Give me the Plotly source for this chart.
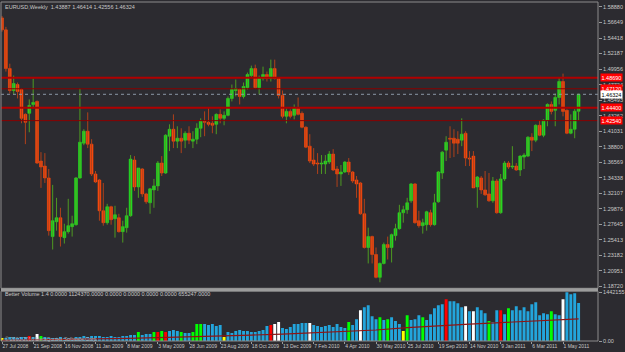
import plotly.graph_objects as go
import pandas as pd

# ---------------- data (EURUSD weekly) ----------------
start_date = "2008-07-27"
opens = [
1.5731,1.5559,1.5002,1.4687,1.4773,1.4702,1.4344,1.4359,1.4487,1.4530,
1.3673,1.3601,1.3430,1.2587,1.2801,1.2858,1.2572,1.2658,1.2730,1.2758,
1.3430,1.3930,1.4102,1.3916,1.3487,1.3401,1.2958,1.2787,1.3016,1.2844,
1.2858,1.2658,1.2715,1.2887,1.3687,1.3301,1.3559,1.3201,1.3073,1.3258,
1.3316,1.3644,1.3501,1.4030,1.4130,1.3959,1.4001,1.3973,1.4073,1.3959,
1.3987,1.4144,1.4244,1.4230,1.4216,1.4201,1.4344,1.4287,1.4330,1.4573,
1.4687,1.4702,1.4602,1.4730,1.4902,1.5002,1.4730,1.4859,1.4916,1.4859,
1.5002,1.4859,1.4616,1.4316,1.4387,1.4330,1.4430,1.4359,1.4159,1.3887,
1.3687,1.3644,1.3630,1.3630,1.3659,1.3773,1.3559,1.3487,1.3516,1.3659,
1.3516,1.3401,1.3358,1.2915,1.2430,1.2587,1.2330,1.2001,1.2201,1.2472,
1.2430,1.2601,1.2701,1.2930,1.2973,1.3101,1.3344,1.2815,1.2744,1.2758,
1.2930,1.2758,1.3087,1.3501,1.3830,1.4001,1.4001,1.3987,1.3973,1.4073,
1.3716,1.3744,1.3301,1.3430,1.3258,1.3201,1.3101,1.3387,1.2930,1.3416,
1.3644,1.3587,1.3601,1.3544,1.3730,1.3744,1.4016,1.3973,1.4187,1.4044,
1.4259,1.4487,1.4402,1.4587,1.4816,1.4402,1.4073,1.4130,1.43887]
highs = [
1.5759,1.5602,1.5073,1.4902,1.4802,1.4716,1.4359,1.4559,1.4859,1.4544,
1.3801,1.3787,1.3559,1.3330,1.3144,1.3001,1.2772,1.3130,1.2887,1.3444,
1.4716,1.4130,1.4373,1.3987,1.3530,1.3416,1.3358,1.3058,1.3030,1.3030,
1.2915,1.2815,1.3001,1.3759,1.3744,1.3573,1.3573,1.3216,1.3287,1.3416,
1.3673,1.3744,1.4059,1.4201,1.4344,1.4173,1.4144,1.4102,1.4173,1.4102,
1.4216,1.4287,1.4387,1.4430,1.4316,1.4359,1.4416,1.4387,1.4602,1.4773,
1.4845,1.4716,1.4802,1.4945,1.5045,1.5059,1.4902,1.5030,1.4959,1.5131,
1.5131,1.4873,1.4687,1.4430,1.4416,1.4487,1.4587,1.4387,1.4173,1.4059,
1.3859,1.3787,1.3759,1.3759,1.3816,1.3844,1.3601,1.3616,1.3673,1.3716,
1.3530,1.3458,1.3373,1.3130,1.2715,1.2601,1.2430,1.2215,1.2501,1.2587,
1.2630,1.2772,1.3044,1.3030,1.3144,1.3358,1.3358,1.2958,1.2844,1.2958,
1.2973,1.3201,1.3530,1.3816,1.4030,1.4173,1.4130,1.4102,1.4287,1.4102,
1.3816,1.3816,1.3458,1.3458,1.3530,1.3501,1.3444,1.3416,1.3487,1.3673,
1.3673,1.3887,1.3644,1.3759,1.3787,1.4030,1.4073,1.4201,1.4259,1.4273,
1.4502,1.4530,1.4645,1.4873,1.4930,1.4416,1.4344,1.4420,1.46414]
lows = [
1.5531,1.4959,1.4645,1.4630,1.4573,1.4216,1.3916,1.4087,1.4430,1.3630,
1.3287,1.3358,1.2601,1.2401,1.2672,1.2444,1.2487,1.2630,1.2587,1.2744,
1.3416,1.3901,1.3859,1.3458,1.3358,1.2815,1.2744,1.2758,1.2758,1.2572,
1.2644,1.2501,1.2644,1.2872,1.3244,1.3144,1.3158,1.3058,1.2915,1.3001,
1.3244,1.3458,1.3487,1.3816,1.3859,1.3859,1.3787,1.3859,1.3916,1.3859,
1.3916,1.4016,1.4030,1.4173,1.4073,1.4059,1.4216,1.4187,1.4316,1.4530,
1.4602,1.4487,1.4573,1.4702,1.4873,1.4716,1.4630,1.4830,1.4816,1.4816,
1.4845,1.4573,1.4287,1.4216,1.4287,1.4273,1.4330,1.4144,1.3859,1.3644,
1.3601,1.3487,1.3487,1.3487,1.3630,1.3530,1.3301,1.3316,1.3501,1.3473,
1.3358,1.3144,1.2901,1.2415,1.2201,1.2201,1.1987,1.1930,1.2187,1.2258,
1.2215,1.2529,1.2687,1.2787,1.2915,1.3073,1.2772,1.2715,1.2630,1.2672,
1.2730,1.2744,1.3073,1.3416,1.3673,1.3716,1.3730,1.3773,1.3887,1.3601,
1.3601,1.3287,1.3001,1.3201,1.3173,1.3087,1.3073,1.2915,1.2915,1.3387,
1.3559,1.3559,1.3530,1.3458,1.3559,1.3730,1.3816,1.3944,1.4030,1.4016,
1.4173,1.4344,1.4173,1.4487,1.4316,1.4059,1.4059,1.4001,1.42556]
closes = [
1.5559,1.5002,1.4687,1.4788,1.4673,1.4287,1.4230,1.4473,1.4516,1.3644,
1.3587,1.3430,1.2672,1.2815,1.2858,1.2587,1.2658,1.2744,1.2772,1.3430,
1.3944,1.4102,1.3916,1.3487,1.3373,1.2958,1.2787,1.3016,1.2830,1.2901,
1.2658,1.2730,1.2887,1.3701,1.3301,1.3573,1.3201,1.3087,1.3273,1.3316,
1.3644,1.3501,1.4044,1.4130,1.3959,1.4001,1.3959,1.4073,1.3973,1.3987,
1.4144,1.4244,1.4230,1.4201,1.4187,1.4344,1.4287,1.4330,1.4573,1.4702,
1.4716,1.4602,1.4745,1.4916,1.5002,1.4730,1.4873,1.4916,1.4859,1.5002,
1.4859,1.4616,1.4316,1.4387,1.4316,1.4430,1.4344,1.4159,1.3873,1.3673,
1.3630,1.3630,1.3644,1.3673,1.3773,1.3544,1.3487,1.3516,1.3659,1.3516,
1.3387,1.3344,1.2915,1.2430,1.2587,1.2330,1.2001,1.2201,1.2472,1.2430,
1.2615,1.2701,1.2930,1.2973,1.3073,1.3344,1.2787,1.2744,1.2787,1.2944,
1.2758,1.3073,1.3516,1.3801,1.3944,1.3987,1.3930,1.3930,1.4059,1.3716,
1.3701,1.3287,1.3444,1.3258,1.3187,1.3101,1.3387,1.2930,1.3416,1.3644,
1.3587,1.3601,1.3544,1.3744,1.3759,1.4016,1.3973,1.4187,1.4044,1.4259,
1.4487,1.4387,1.4587,1.4816,1.4387,1.4073,1.4130,1.4389,1.46324]

# Better Volume histogram (thousands) and signal type of special bars
volume_k = [
88,88,118,118,88,118,118,147,118,206,147,118,88,88,88,118,88,88,59,
118,118,147,118,147,147,147,118,118,147,118,118,147,147,177,
177,265,177,206,206,265,265,294,265,294,324,294,265,235,235,265,
500,500,500,471,500,441,471,
118,
265,235,294,324,294,294,265,265,294,324,
441,471,500,559,
383,353,412,500,500,530,530,
530,
471,441,412,441,471,412,500,412,383,
559,471,647,912,1001,1059,736,647,706,618,647,706,589,500,294,765,618,647,765,706,
618,795,971,1059,1089,1236,1177,1177,1118,1001,1030,883,883,1001,912,824,589,559,912,912,
795,971,912,1030,912,1001,883,1089,1148,765,824,795,883,795,765,1236,1442.155,1383,1413,1124.370]
vol_signal = {0: "yellow", 7: "red", 9: "white", 10: "green", 35: "green", 39: "green", 40: "red",
              41: "green", 42: "red", 46: "green", 49: "green", 50: "green", 51: "green",
              57: "yellow", 69: "red", 70: "white", 71: "white", 79: "white", 89: "green",
              92: "white", 97: "green", 99: "green", 103: "yellow", 104: "green", 108: "green",
              114: "red", 119: "white", 121: "white", 125: "green", 128: "red", 130: "green",
              141: "green", 144: "white"}
# volume moving average read at every 8th bar (thousands)
ma_idx = [0, 8, 16, 24, 32, 40, 48, 56, 64, 72, 80, 88, 96, 104, 112, 120, 128, 136, 144, 148]
ma_k = [20, 30, 45, 60, 80, 100, 120, 150, 175, 205, 240, 280, 325, 395, 455, 500, 545, 590, 635, 655.247]

# horizontal levels drawn on the chart
levels = [1.4869, 1.4712, 1.4440, 1.4254]
level_widths = [2, 1, 2, 1]
bid = 1.46324
vol_max = 1442155

# ---------------- styling ----------------
BG = "#2c2b30"
TXT = "#c8c8c8"
FONT = "Liberation Sans"
BULL, BEAR = "#22e222", "#ff4a0c"
BULL_W, BEAR_W = "#4e9a22", "#b0401a"
VCOL = {"blue": "#23a5dc", "green": "#00ff00", "red": "#ff0000", "white": "#ffffff", "yellow": "#ffff00"}

n = len(opens)
idx = list(range(n))
dates = pd.date_range(start_date, periods=n, freq="7D")
volume = [v * 1000 for v in volume_k]
ma = [v * 1000 for v in ma_k]

fig = go.Figure()

for is_bull, wc, bc in [(True, BULL_W, BULL), (False, BEAR_W, BEAR)]:
    sel = [i for i in idx if (closes[i] > opens[i]) == is_bull]
    xs, ys = [], []
    for i in sel:
        xs += [i, i, None]
        ys += [lows[i], highs[i], None]
    fig.add_trace(go.Scatter(x=xs, y=ys, mode="lines", line=dict(color=wc, width=1),
                             hoverinfo="skip", yaxis="y"))
    fig.add_trace(go.Bar(x=sel, y=[abs(closes[i] - opens[i]) for i in sel],
                         base=[min(opens[i], closes[i]) for i in sel], width=0.72,
                         marker=dict(color=bc, line=dict(color=bc, width=0.6)), yaxis="y"))

fig.add_trace(go.Bar(x=idx, y=volume, width=0.75, yaxis="y2",
                     marker=dict(color=[VCOL[vol_signal.get(i, "blue")] for i in idx], line=dict(width=0))))
fig.add_trace(go.Scatter(x=ma_idx, y=ma, mode="lines", line=dict(color="#8e1414", width=1.2), yaxis="y2"))

# levels
shapes = []
for lv, lw in zip(levels, level_widths):
    shapes.append(dict(type="line", xref="paper", x0=0, x1=1, yref="y", y0=lv, y1=lv,
                       line=dict(color="#b00000" if lw == 2 else "#8a0000", width=lw)))
shapes.append(dict(type="line", xref="paper", x0=0, x1=1, yref="y", y0=bid, y1=bid,
                   line=dict(color="#8a96a6", width=1, dash="dot")))

PH = 341.0
main_bottom = (PH - 288) / PH
vol_top = (PH - 291) / PH
shapes.append(dict(type="rect", xref="paper", yref="paper", x0=0, x1=1, y0=main_bottom, y1=1,
                   line=dict(color="#8c8c8c", width=1)))
shapes.append(dict(type="rect", xref="paper", yref="paper", x0=0, x1=1, y0=0, y1=vol_top,
                   line=dict(color="#8c8c8c", width=1)))
shapes.append(dict(type="rect", xref="paper", yref="paper", x0=0, x1=1, y0=vol_top + 0.001,
                   y1=main_bottom, line=dict(width=0), fillcolor="#9c9c9c"))

annotations = [
    dict(xref="paper", yref="paper", x=0.004, y=(PH - 5) / PH, xanchor="left", yanchor="middle",
         text=f"EURUSD,Weekly  {opens[-1]:.5f} {highs[-1]:.5f} {lows[-1]:.5f} {closes[-1]:.5f}",
         showarrow=False, font=dict(size=5.5, color=TXT, family=FONT)),
    dict(xref="paper", yref="paper", x=0.004, y=(PH - 294) / PH, xanchor="left", yanchor="middle",
         text=f"Better Volume 1.4 0.0000 {volume[-1]:.4f} 0.0000 0.0000 0.0000 0.0000 {ma[-1]:.4f}",
         showarrow=False, font=dict(size=5.5, color=TXT, family=FONT)),
    dict(xref="paper", yref="paper", x=0.004, y=(PH - 339) / PH, xanchor="left", yanchor="middle",
         text="© 2001-2010 MetaQuotes Software Corp.", showarrow=False,
         font=dict(size=5, color="#b0b0b0", family=FONT)),
]
for lv in levels:
    annotations.append(dict(xref="paper", yref="y", x=1.004, y=lv, xanchor="left", yanchor="middle",
                            text=f"{lv:.5f}", showarrow=False, bgcolor="#ff0000", borderpad=0.5,
                            font=dict(size=5.5, color="#ffffff", family=FONT)))
annotations.append(dict(xref="paper", yref="y", x=1.004, y=bid, xanchor="left", yanchor="middle",
                        text=f"{bid:.5f}", showarrow=False, bgcolor="#ffffff", borderpad=0.5,
                        font=dict(size=5.5, color="#000000", family=FONT)))

price_ticks = [1.5888 - 0.022311 * k for k in range(19)]
xt = list(range(0, n, 8))
xtext = [f"{dates[i].day} {dates[i].strftime('%b %Y')}" for i in xt]

fig.update_layout(
    width=625, height=352, margin=dict(l=1, r=27, t=0, b=11),
    paper_bgcolor=BG, plot_bgcolor=BG, showlegend=False, barmode="overlay",
    font=dict(family=FONT, color=TXT),
    shapes=shapes, annotations=annotations,
    xaxis=dict(range=[-0.26, 152.98], anchor="y2", tickmode="array", tickvals=xt, ticktext=xtext,
               ticks="outside", ticklen=2, tickcolor="#9a9a9a", ticklabelposition="outside right",
               tickangle=0, tickfont=dict(size=5, color=TXT, family=FONT), showgrid=False,
               zeroline=False, showline=False),
    yaxis=dict(domain=[main_bottom, 1], range=[1.18434, 1.59595], side="right", tickmode="array",
               tickvals=price_ticks, ticktext=[f"{v:.5f}" for v in price_ticks], ticks="outside",
               ticklen=3, tickcolor="#9a9a9a", tickfont=dict(size=5.5, color=TXT, family=FONT),
               showgrid=False, zeroline=False, showline=False),
    yaxis2=dict(domain=[0, vol_top], range=[0, vol_max * 1.02], side="right", tickmode="array",
                tickvals=[0, vol_max], ticktext=["0.00", f"{vol_max}"], ticks="outside", ticklen=3,
                tickcolor="#9a9a9a", tickfont=dict(size=5.5, color=TXT, family=FONT),
                showgrid=False, zeroline=False, showline=False),
)

fig.write_html("out.html")
